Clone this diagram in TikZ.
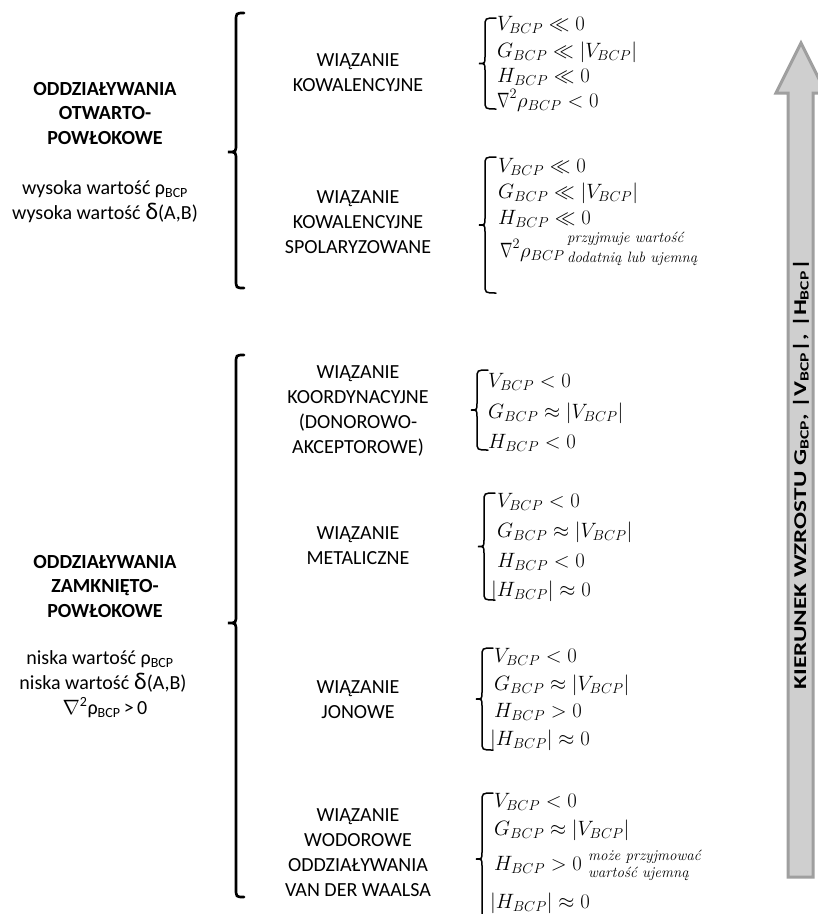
\documentclass[tikz,border=0pt]{standalone}
\usepackage{fontspec}
\usepackage{amsmath}
\newfontfamily\calib{Carlito}
\newcommand\nablaR{\mathord{\scalebox{0.72}[1]{$\nabla$}}}
\newcommand\sbrace[3]{%
  \pgfmathsetmacro\sbxl{#1-11}\pgfmathsetmacro\sbxt{#1-17}%
  \pgfmathsetmacro\sbym{(#2+#3)/2}%
  \draw[smbr] (#1,#2) .. controls (\sbxl,#2) .. (\sbxl,#2+9) -- (\sbxl,\sbym-7)
    .. controls (\sbxl,\sbym) .. (\sbxt,\sbym) .. controls (\sbxl,\sbym) .. (\sbxl,\sbym+7)
    -- (\sbxl,#3-9) .. controls (\sbxl,#3) .. (#1,#3);}
\newcommand\bbrace[4]{%
  \pgfmathsetmacro\bbxl{#1-8}\pgfmathsetmacro\bbxt{#1-16}%
  \draw[bigbr] (#1,#2) .. controls (\bbxl,#2) .. (\bbxl,#2+9) -- (\bbxl,#3-8)
    .. controls (\bbxl,#3) .. (\bbxt,#3) .. controls (\bbxl,#3) .. (\bbxl,#3+8)
    -- (\bbxl,#4-9) .. controls (\bbxl,#4) .. (#1,#4);}
\begin{document}
\begin{tikzpicture}[x=1pt,y=-1pt,
  lab/.style={font=\calib\fontsize{20}{25}\selectfont, align=center, inner sep=0},
  head/.style={font=\calib\bfseries\fontsize{20}{24.5}\selectfont, align=center, inner sep=0},
  txt/.style={font=\calib\fontsize{20}{25}\selectfont, inner sep=0, anchor=base},
  mrow/.style={font=\fontsize{21.5}{26}\selectfont, inner sep=0, anchor=base west},
  note/.style={font=\itshape\fontsize{15}{19}\selectfont, inner sep=0, anchor=base west},
  bigbr/.style={line width=2.7pt, line cap=round},
  smbr/.style={line width=1.5pt, line cap=round},
  arrowshape/.style={fill=gray!38, draw=gray!75, line width=3pt, line join=miter},
]
\useasboundingbox (0,0) rectangle (818,914);
\clip (0,0) rectangle (818,914);
\fill[white] (0,0) rectangle (818,914);

% arrow
\draw[arrowshape] (788,877) -- (788,93) -- (776,93) -- (801,43) -- (826,93) -- (813,93) -- (813,877) -- cycle;
\node[rotate=90, font=\calib\bfseries\fontsize{18}{18}\selectfont, inner sep=0] (arrtxt) at (801,474)
  {\scalebox{1.4}[1]{KIERUNEK WZROSTU G\textsubscript{BCP}, |V\textsubscript{BCP}|, |H\textsubscript{BCP}|}};

% left group labels
\node[head] (g1) at (105,113.5) {ODDZIAŁYWANIA\\OTWARTO-\\POWŁOKOWE};
\node[txt] (g1a) at (105,194) {wysoka wartość ρ\textsubscript{BCP}};
\node[txt] (g1b) at (105,219) {wysoka wartość\hspace{5pt}{\fontsize{24}{24}\selectfont δ}(A,B)};
\node[head] (g2) at (105,586.5) {ODDZIAŁYWANIA\\ZAMKNIĘTO-\\POWŁOKOWE};
\node[txt] (g2a) at (100,664) {niska wartość ρ\textsubscript{BCP}};
\node[txt] (g2b) at (103,689) {niska wartość\hspace{5pt}{\fontsize{24}{24}\selectfont δ}(A,B)};
\node[txt] (g2c) at (105,714) {{\fontsize{22}{22}\selectfont$\nabla$}\textsuperscript{2}ρ\textsubscript{BCP}\,>\,0};

% big braces
\bbrace{244}{13}{152}{288}
\bbrace{244}{355}{623}{897}

% bond labels
\node[lab] (k1) at (358,73) {WIĄZANIE\\KOWALENCYJNE};
\node[lab] (k2) at (358,222) {WIĄZANIE\\KOWALENCYJNE\\SPOLARYZOWANE};
\node[lab] (k3) at (358,411) {WIĄZANIE\\KOORDYNACYJNE\\(DONOROWO-\\AKCEPTOROWE)};
\node[lab] (k4) at (358,545.5) {WIĄZANIE\\METALICZNE};
\node[lab] (k5) at (358,700) {WIĄZANIE\\JONOWE};
\node[lab] (k6) at (358,853) {WIĄZANIE\\WODOROWE\\ODDZIAŁYWANIA\\VAN DER WAALSA};

% block 1
\sbrace{496}{18}{109}
\node[mrow] (a1) at (497,30) {$V_{BCP} \ll 0$};
\node[mrow] (a2) at (497,57) {$G_{BCP} \ll |V_{BCP}|$};
\node[mrow] (a3) at (497,82) {$H_{BCP} \ll 0$};
\node[mrow] (a4) at (497,107) {$\nablaR^2\rho_{BCP} < 0$};
% block 2
\sbrace{496}{157}{293}
\node[mrow] (b1) at (498,172) {$V_{BCP} \ll 0$};
\node[mrow] (b2) at (498,198) {$G_{BCP} \ll |V_{BCP}|$};
\node[mrow] (b3) at (498,224) {$H_{BCP} \ll 0$};
\node[mrow] (b4) at (500,257) {$\nablaR^2\rho_{BCP}$};
\node[note] (bn1) at (567,242) {przyjmuje wartość};
\node[note] (bn2) at (567,262) {dodatnią lub ujemną};
% block 3
\sbrace{488}{370}{450}
\node[mrow] (c1) at (488,387) {$V_{BCP} < 0$};
\node[mrow] (c2) at (488,418) {$G_{BCP} \approx |V_{BCP}|$};
\node[mrow] (c3) at (488,448) {$H_{BCP} < 0$};
% block 4
\sbrace{495}{493}{600}
\node[mrow] (d1) at (497,507) {$V_{BCP} < 0$};
\node[mrow] (d2) at (497,537) {$G_{BCP} \approx |V_{BCP}|$};
\node[mrow] (d3) at (497,567) {$H_{BCP} < 0$};
\node[mrow] (d4) at (491,596) {$|H_{BCP}| \approx 0$};
% block 5
\sbrace{493}{648}{750}
\node[mrow] (e1) at (494,662) {$V_{BCP} < 0$};
\node[mrow] (e2) at (494,690) {$G_{BCP} \approx |V_{BCP}|$};
\node[mrow] (e3) at (494,717) {$H_{BCP} > 0$};
\node[mrow] (e4) at (490,745) {$|H_{BCP}| \approx 0$};
% block 6
\sbrace{493}{793}{925}
\node[mrow] (f1) at (494,807) {$V_{BCP} < 0$};
\node[mrow] (f2) at (494,835) {$G_{BCP} \approx |V_{BCP}|$};
\node[mrow] (f3) at (494,870) {$H_{BCP} > 0$};
\node[note] (fn1) at (588,860) {może przyjmować};
\node[note] (fn2) at (588,877) {wartość ujemną};
\node[mrow] (f4) at (490,908) {$|H_{BCP}| \approx 0$};
\end{tikzpicture}
\end{document}
